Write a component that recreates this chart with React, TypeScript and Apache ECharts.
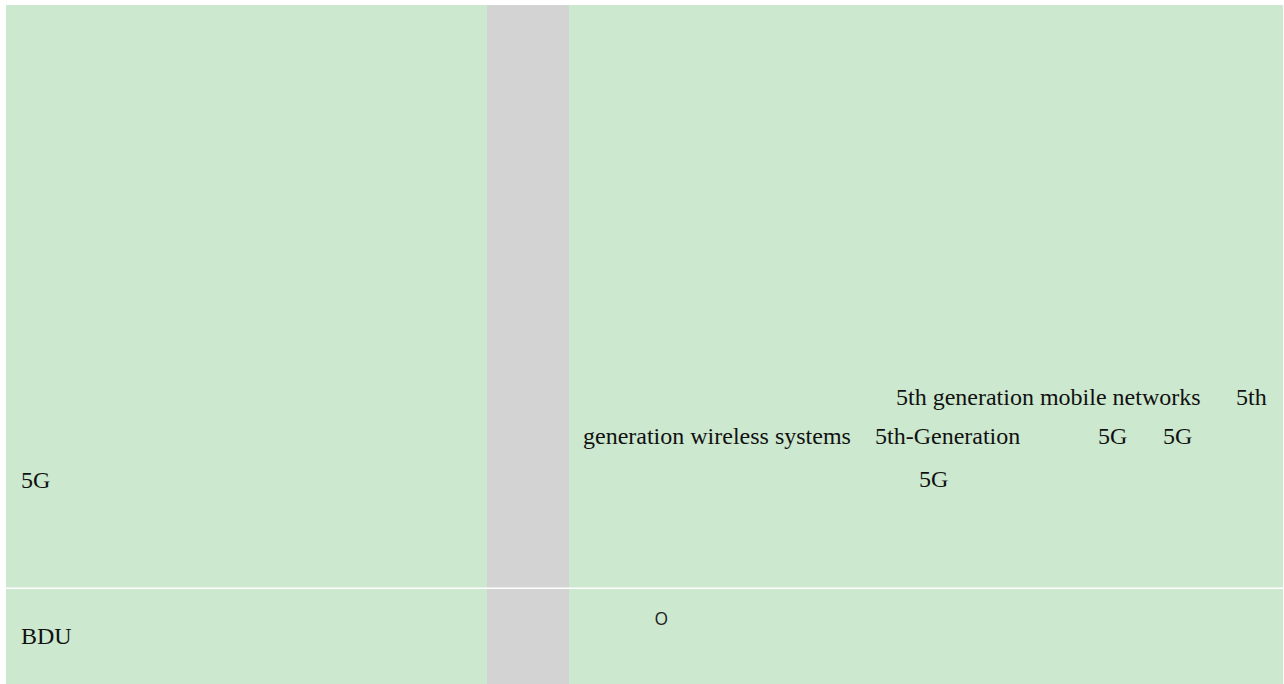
import React, { useEffect, useRef } from "react";
import * as echarts from "echarts";

// Table layout content (rows and cell texts)
const rowLabels = ["5G", "BDU"];
// Right cell of row 1: text fragments per line [text, x]
const line1: [string, number][] = [
  ["5th generation mobile networks", 896],
  ["5th", 1236],
];
const line2: [string, number][] = [
  ["generation wireless systems", 583],
  ["5th-Generation", 875],
  ["5G", 1098],
  ["5G", 1163],
];
const line3: [string, number][] = [["5G", 919]];
const row2Right = "O";

const GREEN = "#cce8cf";
const GRAY = "#d3d3d3";
const SERIF = "'Liberation Serif', 'Times New Roman', serif";

export default function App() {
  const ref = useRef<HTMLDivElement>(null);
  useEffect(() => {
    document.body.style.margin = "0";
    const chart = echarts.init(ref.current!, null, { renderer: "svg" });
    const txt = (text: string, x: number, y: number, fontSize = 24, family = SERIF, fill = "#111") => ({
      type: "text",
      x,
      y,
      style: { text, fontSize, fontFamily: family, fill, verticalAlign: "middle", align: "left" },
    });
    const elements: any[] = [
      { type: "rect", shape: { x: 6, y: 5, width: 1277, height: 679 }, style: { fill: GREEN } },
      { type: "rect", shape: { x: 487, y: 5, width: 82, height: 679 }, style: { fill: GRAY } },
      { type: "rect", shape: { x: 6, y: 587.5, width: 1277, height: 1.5 }, style: { fill: "#ffffff" } },
      txt(rowLabels[0], 21, 480),
      txt(rowLabels[1], 21, 636),
      ...line1.map(([t, x]) => txt(t, x, 397)),
      ...line2.map(([t, x]) => txt(t, x, 436)),
      ...line3.map(([t, x]) => txt(t, x, 479)),
      txt(row2Right, 654.5, 618, 17.5, "'Open Sans', 'Noto Sans', sans-serif", "#222"),
    ];
    chart.setOption({ animation: false, graphic: { elements } });
    return () => chart.dispose();
  }, []);
  return <div ref={ref} style={{ width: 1284, height: 684, background: "#fff" }} />;
}
